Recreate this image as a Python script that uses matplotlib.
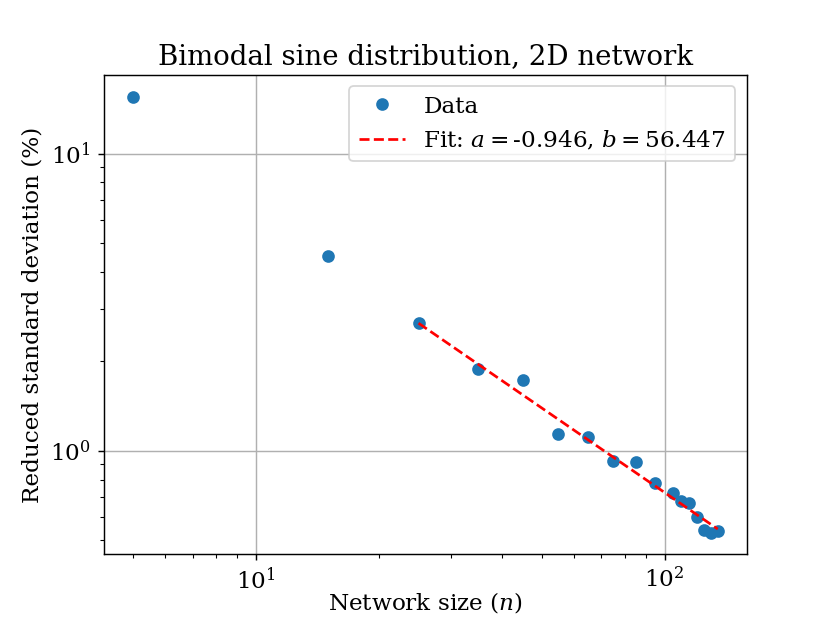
import numpy as np
import matplotlib
matplotlib.use("Agg")
import matplotlib.pyplot as plt

# Tamanhos de rede e desvio padrão reduzido (%)
network_size = [5, 15, 25, 35, 45, 55, 65, 75, 85, 95,
                105, 110, 115, 120, 125, 130, 135]
reduced_std = [15.56, 4.53, 2.70, 1.89, 1.73, 1.14, 1.115, 0.925, 0.918, 0.780,
               0.722, 0.675, 0.668, 0.598, 0.541, 0.530, 0.535]

# Parâmetros do ajuste y = b * n^a
fit_a = -0.946
fit_b = 56.447
fit_start = 25

plt.rcParams['font.family'] = 'DejaVu Serif'
plt.rcParams['mathtext.fontset'] = 'dejavuserif'
plt.rcParams['font.size'] = 12.8

fig = plt.figure(figsize=(830 / 130, 623 / 130), dpi=130)

plt.plot(network_size, reduced_std, 'o', label='Data')

n_fit = np.array([n for n in network_size if n >= fit_start], dtype=float)
plt.plot(n_fit, fit_b * n_fit ** fit_a, 'r--',
         label=f'Fit: $a = ${fit_a}, $b = ${fit_b}')

plt.xscale('log')
plt.yscale('log')
plt.xlabel('Network size ($n$)', labelpad=-2)
plt.ylabel('Reduced standard deviation (%)')
plt.title('Bimodal sine distribution, 2D network', fontsize=15.3)
plt.grid(True)
plt.legend(loc='upper right')

plt.savefig('out.png', dpi=130)
